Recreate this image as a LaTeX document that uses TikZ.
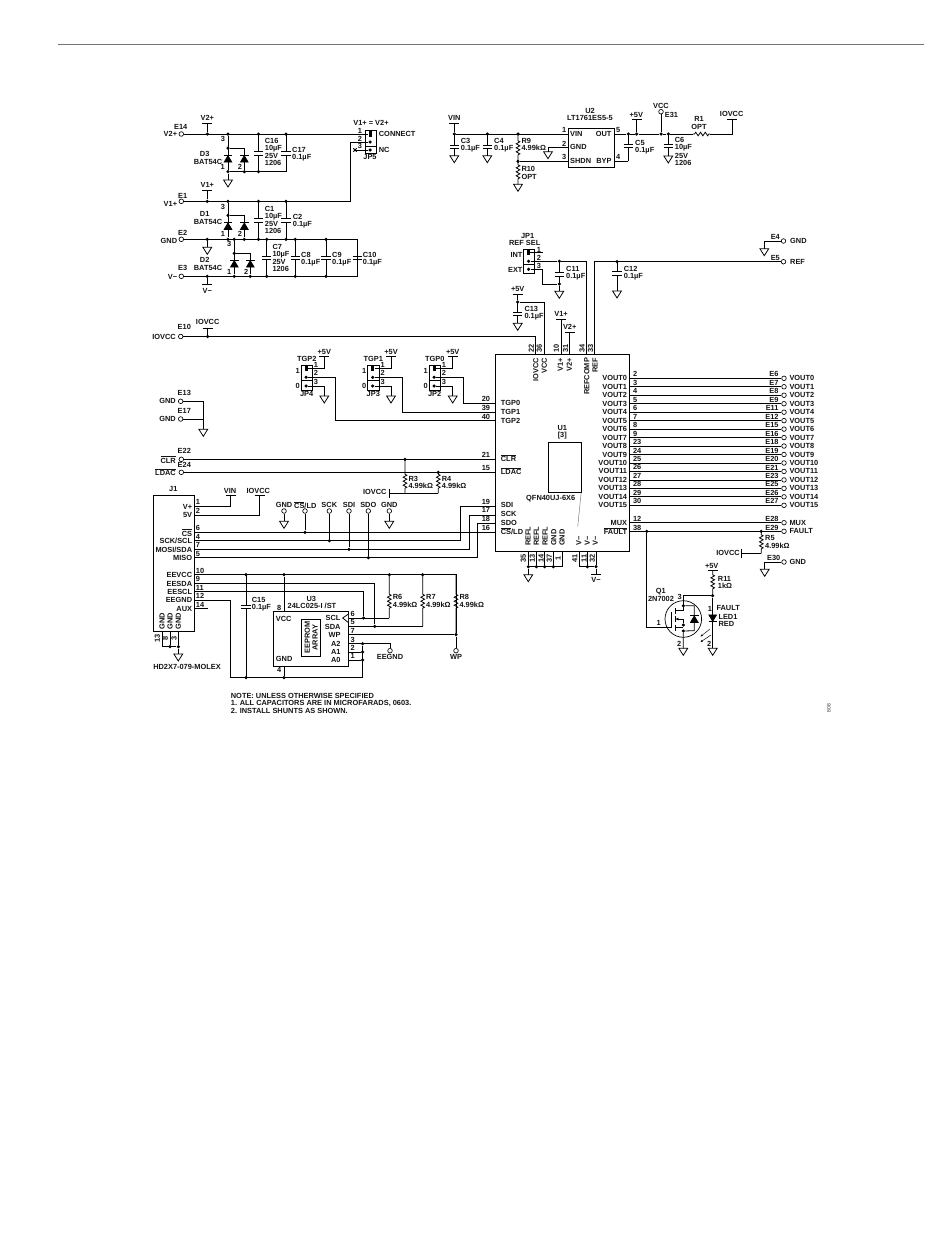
\documentclass[tikz,border=0pt]{standalone}
\usepackage{fontspec}
\setmainfont{Liberation Sans}
\usetikzlibrary{arrows.meta}
\newcounter{lblno}
\tikzset{
  wire/.style={line width=0.78pt,black},
  lbl/.style={inner sep=0pt,font=\fontsize{7.4}{8}\selectfont\bfseries,text=black!92},
  dot/.style={circle,fill=black,inner sep=0pt,minimum size=3.5pt},
  term/.style={circle,draw=black,line width=0.65pt,fill=white,inner sep=0pt,minimum size=4.6pt},
  boxed/.style={draw=black,line width=0.8pt,fill=none},
}
\newcommand{\Lc}[3]{\stepcounter{lblno}\node[lbl] (t\number\value{lblno}) at (#1,#2) {#3};}
\newcommand{\Ll}[3]{\stepcounter{lblno}\node[lbl,anchor=west] (t\number\value{lblno}) at (#1,#2) {#3};}
\newcommand{\Lr}[3]{\stepcounter{lblno}\node[lbl,anchor=east] (t\number\value{lblno}) at (#1,#2) {#3};}
\newcommand{\Ro}[4]{\stepcounter{lblno}\node[lbl,rotate=90,anchor=#4] (t\number\value{lblno}) at (#1,#2) {#3};}
\newcommand{\J}[3]{\node[dot] (#1) at (#2,#3) {};}
\newcommand{\Term}[3]{\node[term] (#1) at (#2,#3) {};}
\newcommand{\Pt}[3]{\coordinate (#1) at (#2,#3);}
\newcommand{\Sup}[3]{\coordinate (#1) at (#2,#3);\draw[wire] (#2-5,#3)--(#2+5,#3);}
\newcommand{\Gnd}[3]{\coordinate (#1) at (#2,#3);\draw[wire,fill=white] (#2-4.4,#3)--(#2+4.4,#3)--(#2,#3+7)--cycle;}
\newcommand{\Cap}[4]{\draw[wire] (#1,#2)--(#1,#4-1.8) (#1-4.7,#4-1.8)--(#1+4.7,#4-1.8) (#1-4.7,#4+1.8)--(#1+4.7,#4+1.8) (#1,#4+1.8)--(#1,#3);}
\newcommand{\ResV}[4]{\draw[wire] (#1,#2)--(#1,#4-7.5)--++(1.8,1)--++(-3.6,2)--++(3.6,2)--++(-3.6,2)--++(3.6,2)--++(-3.6,2)--++(3.6,2)--++(-1.8,1)--(#1,#3);}
\newcommand{\DioUp}[2]{\draw[wire,fill=black] (#1-3.8,#2+3.4)--(#1+3.8,#2+3.4)--(#1,#2-3)--cycle;\draw[wire,line width=1pt] (#1-4.2,#2-3.2)--(#1+4.2,#2-3.2);}
\newcommand{\DioDn}[2]{\draw[wire,fill=black] (#1-3.8,#2-3.4)--(#1+3.8,#2-3.4)--(#1,#2+3)--cycle;\draw[wire,line width=1pt] (#1-4.2,#2+3.2)--(#1+4.2,#2+3.2);}
% name, cx, top, divider, bottom, shunt y, pin2 y, pin3 y
\newcommand{\Jmp}[8]{
  \draw[boxed] (#2-5.6,#3) rectangle (#2+5.6,#5);
  \draw[boxed] (#2-5.6,#4)--(#2+5.6,#4);
  \node[fill=black,inner sep=0pt,minimum width=3.2pt,minimum height=5.4pt] (#1a) at (#2-0.6,#6) {};
  \node[dot] (#1b) at (#2-0.6,#7) {};
  \node[dot] (#1c) at (#2-0.6,#8) {};
}
\newcommand{\OL}[1]{$\overline{\hbox{#1}}$}
\begin{document}
\begin{tikzpicture}[x=1pt,y=-1pt]
\useasboundingbox[fill=white] (0,0) rectangle (950,1248);
\node[draw=none,minimum width=0pt,inner sep=0pt] (rulea) at (58,44) {};
\node[draw=none,inner sep=0pt] (ruleb) at (925,44) {};
\draw[line width=1pt,black!55] (rulea)--(ruleb);

%%% V2+ row
\Term{e14}{181.3}{134}\J{a1}{207.3}{134}\J{a2}{228}{134}\J{a3}{258.5}{134}\J{a4}{286}{134}
\Sup{v2t}{207.3}{123.3}\draw[wire] (v2t)--(a1);
\Jmp{jf}{370.8}{130.7}{146}{153.3}{134}{142}{150}
\draw[wire] (e14)--(jfa);
\J{b1}{228}{148}\J{b2}{228}{171.7}\J{b3}{244.3}{171.7}\J{b4}{258.5}{171.7}
\Pt{b5}{244.3}{148}\Pt{b6}{286}{171.7}
\draw[wire] (a2)--(b2) (b1)--(b5)--(b3) (b2)--(b6);
\DioUp{228}{158.7}\DioUp{244.3}{158.7}
\Cap{258.5}{134}{171.7}{153.3}\Cap{286}{134}{171.7}{153.3}
\Gnd{g1}{228}{180}\draw[wire] (b2)--(g1);
\Lc{180.7}{127}{E14}\Lr{177.3}{134}{V2+}\Lc{207.3}{118}{V2+}
\Lc{223}{139.3}{3}\Lc{222.7}{166.7}{1}\Lc{240}{166.7}{2}
\Lc{204.7}{154.3}{D3}\Lc{208}{162}{BAT54C}
\Ll{264.7}{141.3}{C16}\Ll{264.7}{148.7}{10µF}\Ll{264.7}{156}{25V}\Ll{264.7}{163.3}{1206}
\Ll{292}{150}{C17}\Ll{292}{157.3}{0.1µF}
%%% JP5
\Lc{360}{130.7}{1}\Lc{360}{138.7}{2}\Lc{360}{146}{3}
\Ll{378.7}{134.3}{CONNECT}\Ll{378.7}{150}{NC}\Lc{370}{157.3}{JP5}\Lc{371}{123.3}{V1+ = V2+}
\Pt{x5}{355}{150}\draw[wire] (jfc)--(x5);
\draw[wire] (353.3,148.3)--(356.7,151.7) (353.3,151.7)--(356.7,148.3);
%%% V1+ row
\Term{e1}{181.3}{201.3}\J{c1}{207.3}{201.3}\J{c2}{228}{201.3}\J{c3}{258.5}{201.3}\J{c4}{286}{201.3}
\Pt{c5}{350.3}{201.3}\Sup{v1t}{207.3}{190}\draw[wire] (v1t)--(c1);
\draw[wire] (e1)--(c5)|-(jfb);
\Term{e2}{181.3}{239.3}\J{d0}{207.3}{239.3}\J{d1}{228}{239.3}\J{d2}{234.3}{239.3}\J{d3}{244.3}{239.3}\J{d4}{258.5}{239.3}\J{d5}{266.7}{239.3}\J{d6}{286}{239.3}\J{d7}{295.3}{239.3}\J{d8}{326}{239.3}
\Pt{d9}{357.3}{239.3}
\J{f1}{228}{215.3}\Pt{f2}{244.3}{215.3}
\draw[wire] (c2)--(d1) (f1)--(f2)--(d3);
\DioUp{228}{226}\DioUp{244.3}{226}
\Cap{258.5}{201.3}{239.3}{220.3}\Cap{286}{201.3}{239.3}{220.3}
\Lc{182.7}{196}{E1}\Lr{177.3}{203.7}{V1+}\Lc{207.3}{185.3}{V1+}
\Lc{223}{206.7}{3}\Lc{223}{234.3}{1}\Lc{240}{234.3}{2}
\Lc{204.7}{214}{D1}\Lc{208}{222}{BAT54C}
\Ll{264.7}{209}{C1}\Ll{264.7}{216.3}{10µF}\Ll{264.7}{223.7}{25V}\Ll{264.7}{231.3}{1206}
\Ll{292.7}{217.3}{C2}\Ll{292.7}{224.7}{0.1µF}
%%% GND row, V- row
\Term{e3}{181.3}{276.3}\J{h0}{207.3}{276.3}\J{h1}{234.3}{276.3}\J{h2}{250.3}{276.3}\J{h3}{266.7}{276.3}\J{h4}{295.3}{276.3}\J{h5}{326}{276.3}\Pt{h6}{357.3}{276.3}
\draw[wire] (e2)--(d9)--(h6)--(e3);
\Gnd{g2}{207.3}{247.3}\draw[wire] (d0)--(g2);
\J{k1}{234.3}{253.3}\Pt{k2}{250.3}{253.3}
\draw[wire] (d2)--(h1) (k1)--(k2)--(h2);
\DioUp{234.3}{263.7}\DioUp{250.3}{263.7}
\Cap{266.7}{239.3}{276.3}{257.7}\Cap{295.3}{239.3}{276.3}{257.7}\Cap{326}{239.3}{276.3}{257.7}\Cap{357.3}{239.3}{276.3}{257.7}
\Sup{vmt}{207.3}{284.7}\draw[wire] (h0)--(vmt);
\Lc{182.7}{232.7}{E2}\Lr{177.3}{240.7}{GND}\Lc{182.7}{268}{E3}\Lr{177.3}{276.8}{V−}\Lc{207.3}{290.7}{V−}
\Lc{229.3}{244.3}{3}\Lc{229.3}{271.7}{1}\Lc{246.3}{271.7}{2}
\Lc{204.7}{260.3}{D2}\Lc{208}{268}{BAT54C}
\Ll{272.3}{247}{C7}\Ll{272.3}{254.3}{10µF}\Ll{272.3}{261.7}{25V}\Ll{272.3}{269}{1206}
\Ll{301}{255}{C8}\Ll{301}{262.7}{0.1µF}\Ll{332}{255}{C9}\Ll{332}{262.7}{0.1µF}\Ll{362.7}{255}{C10}\Ll{362.7}{262.7}{0.1µF}

%%% U2 section
\node[boxed,minimum width=45.7pt,minimum height=38.7pt,inner sep=0pt] (u2) at (591.2,147.7) {};
\Sup{vint}{454.3}{123.7}\J{m1}{454.3}{134}\J{m2}{487.3}{134}\J{m3}{518}{134}\J{m4}{518}{161.3}
\draw[wire] (vint)--(m1) (m1)--(u2.west|-m1) (m4)--(u2.west|-m4);
\Gnd{g3}{454.3}{155.7}\Gnd{g4}{487.3}{155.7}
\Cap{454.3}{134}{155.7}{146.7}\Cap{487.3}{134}{155.7}{146.7}
\ResV{518}{134}{161.3}{148.3}\Gnd{g5}{518}{184.3}\ResV{518}{161.3}{184.3}{172.3}
\Gnd{g6}{548}{151.7}\Pt{m5}{548}{147.3}\draw[wire] (u2.west|-m5)--(m5)--(g6);
\Lc{590}{111}{U2}\Lc{590}{118.3}{LT1761ES5-5}
\Lc{564.3}{130}{1}\Lc{564.3}{143.7}{2}\Lc{564.3}{157}{3}\Lc{618.3}{129.7}{5}\Lc{618.3}{157}{4}
\Ll{570}{134}{VIN}\Ll{570}{147.3}{GND}\Ll{570}{161.3}{SHDN}\Lr{611.7}{134}{OUT}\Lr{611.7}{161.3}{BYP}
\Lc{454.3}{118.3}{VIN}
\Ll{460.7}{141.3}{C3}\Ll{460.7}{149}{0.1µF}\Ll{494}{141.3}{C4}\Ll{494}{149}{0.1µF}
\Ll{521.3}{140.7}{R9}\Ll{521.3}{148.3}{4.99kΩ}\Ll{521.3}{169}{R10}\Ll{521.3}{177}{OPT}
\J{n1}{628.3}{134}\J{n2}{636.7}{134}\J{n3}{661}{134}\J{n4}{668.3}{134}\Pt{n5}{732.3}{134}
\Sup{p5a}{636.7}{119.7}\Sup{iov1}{732.3}{119.7}\Term{e31}{661}{111.7}
\Pt{n6}{628.3}{161.3}
\draw[wire] (u2.east|-n1)--(n1)--(n2)--(n3)--(n4)--(693,134);
\draw[wire] (710,134)--(n5)--(iov1) (p5a)--(n2) (e31)--(n3) (n6)--(u2.east|-n6);
\draw[wire] (693,134)--(694.5,134)--++(1.2,-1.8)--++(2.4,3.6)--++(2.4,-3.6)--++(2.4,3.6)--++(2.4,-3.6)--++(2.4,3.6)--++(1.2,-1.8)--(710,134);
\Cap{628.3}{134}{161.3}{145.8}
\Gnd{g7}{668.3}{156}\Cap{668.3}{134}{156}{145.8}
\Lc{636.3}{114.7}{+5V}\Lc{661}{105.7}{VCC}\Ll{664.7}{114.7}{E31}\Lc{699}{119.3}{R1}\Lc{699}{127}{OPT}\Lc{731.7}{114.3}{IOVCC}
\Ll{635}{143}{C5}\Ll{635}{151}{0.1µF}
\Ll{674.7}{140.3}{C6}\Ll{674.7}{147.7}{10µF}\Ll{674.7}{155.7}{25V}\Ll{674.7}{163}{1206}

%%% U1 body
\node[boxed,minimum width=134pt,minimum height=197pt,inner sep=0pt] (u1) at (562.3,452.8) {};
\node[boxed,minimum width=33.4pt,minimum height=50pt,inner sep=0pt] (u1p) at (565,467.3) {};
\Pt{lead}{577.7}{526.7}\draw[line width=0.4pt,black!60] (581.2,492.3)--(lead);
\Lc{562.3}{428.3}{U1}\Lc{562.3}{436}{[3]}\Lc{550.7}{498.7}{QFN40UJ-6X6}

%%% JP1, C11, C12
\Jmp{ja}{529.2}{249.3}{264.7}{273.7}{252.7}{261.3}{269.3}
\J{r1}{559.3}{261.3}\J{r2}{559.3}{284}\Pt{r3}{586.7}{261.3}\Pt{r4}{542.3}{269.3}\Pt{r5}{542.3}{284}\Pt{r6}{543.3}{252.7}
\Gnd{g8}{559.3}{291.3}
\draw[wire] (jab)--(r1)--(r3)--(u1.north-|r3) (jac)--(r4)--(r5)--(r2)--(g8) (jaa)--(r6);
\Cap{559.3}{261.3}{284}{274.3}
\Lc{527.7}{236}{JP1}\Lc{524.7}{243}{REF SEL}\Lr{522.7}{255.3}{INT}\Lr{522.7}{269.7}{EXT}
\Lc{539}{250}{1}\Lc{539}{257.7}{2}\Lc{539}{265.7}{3}
\Ll{566}{269.3}{C11}\Ll{566}{277}{0.1µF}
\Term{e5}{783.5}{261.7}\J{r7}{617}{261.7}\Pt{r8}{594.3}{261.7}\Gnd{g9}{617}{291}
\draw[wire] (e5)--(r8)--(u1.north-|r8);
\Cap{617}{261.7}{291}{273.3}
\Ll{623.7}{269.3}{C12}\Ll{623.7}{277}{0.1µF}
\Term{e4}{783.5}{241}\Gnd{g10}{764.3}{248.7}\draw[wire] (e4)-|(g10);
\Lc{775.3}{237}{E4}\Ll{790}{241}{GND}\Lc{775.3}{257.7}{E5}\Ll{790}{261.7}{REF}
%%% +5V C13, IOVCC
\Sup{p5b}{517.7}{294.3}\J{s1}{517.7}{302}\Pt{s2}{544.3}{302}\Gnd{g11}{517.7}{323.3}
\draw[wire] (p5b)--(s1)--(s2)--(u1.north-|s2);
\Cap{517.7}{302}{323.3}{314}
\Lc{517.7}{289}{+5V}\Ll{524.3}{309}{C13}\Ll{524.3}{317}{0.1µF}
\Term{e10}{180.7}{336.5}\J{s3}{207.7}{336.5}\Pt{s4}{535.3}{336.5}\Sup{iov2}{207.7}{328}
\draw[wire] (e10)--(s4)--(u1.north-|s4) (iov2)--(s3);
\Lc{207.7}{322.3}{IOVCC}\Lc{184.3}{327.3}{E10}\Lr{176}{337}{IOVCC}
\Sup{v1b}{561}{319.3}\Sup{v2b}{569.7}{332.7}
\draw[wire] (v1b)--(u1.north-|v1b) (v2b)--(u1.north-|v2b);
\Lc{561}{314.3}{V1+}\Lc{569.7}{327.3}{V2+}
\Ro{531.3}{348}{22}{center}\Ro{539.3}{348}{36}{center}\Ro{556.3}{348}{10}{center}\Ro{565.7}{348}{31}{center}\Ro{582}{348}{34}{center}\Ro{590.7}{348}{33}{center}
\Ro{535.7}{357.7}{IOVCC}{east}\Ro{544.3}{357.7}{VCC}{east}\Ro{560.3}{357.7}{V1+}{east}\Ro{569.3}{357.7}{V2+}{east}\Ro{586.7}{357.7}{REFCOMP}{east}\Ro{595}{357.7}{REF}{east}

%%% VOUT rows
\foreach \i/\p/\e in {0/2/E6,1/3/E7,2/4/E8,3/5/E9,4/6/E11,5/7/E12,6/8/E15,7/9/E16,8/23/E18,9/24/E19,10/25/E20,11/26/E21,12/27/E23,13/28/E25,14/29/E26,15/30/E27}{
  \pgfmathsetmacro\yy{378.3+8.467*\i}
  \Term{vo\i}{784}{\yy}
  \draw[wire] (u1.east|-vo\i)--(vo\i);
  \Lr{627.3}{\yy}{VOUT\i}
  \Ll{632.8}{\yy-4}{\p}
  \Lr{778.7}{\yy-4}{\e}
  \Ll{789.3}{\yy}{VOUT\i}
}
\Term{e28}{784}{522.7}\Term{e29}{784}{531.3}\J{q0}{646.7}{531.3}\J{q1a}{761.3}{531.3}
\draw[wire] (u1.east|-e28)--(e28) (u1.east|-e29)--(e29);
\Lr{627.3}{522.7}{MUX}\Lr{627.3}{531.3}{\OL{FAULT}}
\Ll{632.8}{519.3}{12}\Ll{632.8}{528}{38}\Lr{778.7}{519}{E28}\Lr{778.7}{527.7}{E29}
\Ll{789.3}{522.7}{MUX}\Ll{789.3}{531.3}{FAULT}
\Pt{q2}{761.3}{553.3}\ResV{761.3}{531.3}{553.3}{542.3}
\Pt{q3}{741.7}{553.3}\draw[wire] (q2)--(q3) (741.7,549)--(741.7,557.6);
\Lr{740}{552.7}{IOVCC}\Ll{765}{538.3}{R5}\Ll{765}{546}{4.99kΩ}
\Term{e30}{784}{562}\Gnd{g12}{764.7}{569.3}\draw[wire] (e30)-|(g12);
\Lc{773.7}{558.3}{E30}\Ll{789.3}{561.7}{GND}
%%% U1 left labels
\Ll{500.7}{403.3}{TGP0}\Ll{500.7}{412}{TGP1}\Ll{500.7}{420.7}{TGP2}
\Ll{500.7}{458.3}{\OL{CLR}}\Ll{500.7}{471.3}{\OL{LDAC}}
\Ll{500.7}{505.3}{SDI}\Ll{500.7}{514}{SCK}\Ll{500.7}{522.7}{SDO}\Ll{500.7}{531.3}{\OL{CS}/LD}
\foreach \nx/\tt in {528/REFL,536.3/REFL,545/REFL,553.7/GND,562/GND}{\Ro{\nx}{546}{\tt}{west}}
\foreach \nx in {578.7,587.3,595.3}{\Ro{\nx}{546}{V−}{west}}
%%% U1 bottom
\J{w1}{536.3}{566.7}\J{w2}{544.7}{566.7}\J{w3}{553.3}{566.7}\J{w4}{528.3}{566.7}\Pt{w5}{562}{566.7}
\Gnd{g13}{528.3}{574.7}
\draw[wire] (w4)--(w5)--(u1.south-|w5) (w4)--(u1.south-|w4) (w1)--(u1.south-|w1) (w2)--(u1.south-|w2) (w3)--(u1.south-|w3) (w4)--(g13);
\J{w6}{587.3}{566.7}\J{w7}{596}{566.7}\Pt{w8}{579.3}{566.7}\Sup{vmb}{596}{574.3}
\draw[wire] (w8)--(w7)--(vmb) (w8)--(u1.south-|w8) (w6)--(u1.south-|w6) (w7)--(u1.south-|w7);
\Lc{596}{580.3}{V−}
\foreach \nx/\tt in {523.3/35,532.3/13,541/14,549.3/37,558/1,574.7/41,584/11,592.3/32}{\Ro{\nx}{558.7}{\tt}{center}}

%%% TGP jumpers
\Jmp{jb}{306.7}{365}{380.7}{390}{368.3}{377.3}{386}
\Jmp{jc}{373.3}{365}{380.7}{390}{368.3}{377.3}{386}
\Jmp{jd}{434.7}{365}{380.7}{390}{368.3}{377.3}{386}
\foreach \jn/\cx/\gx/\tx/\wy/\tg/\jl/\pn in {jb/306.7/324.3/335/420.3/TGP2/JP4/4,jc/373.3/391/402.7/412.3/TGP1/JP3/3,jd/434.7/452.7/463.3/403.7/TGP0/JP2/2}{
  \Sup{\jn p}{\gx}{356.7}\Gnd{\jn g}{\gx}{396}
  \Pt{\jn m}{\tx}{\wy}
  \draw[wire] (\jn a)-|(\jn p);
  \draw[wire] (\jn c)-|(\jn g);
  \draw[wire] (\jn b)-|(\jn m)--(u1.west|-\jn m);
  \Lc{\gx}{351.7}{+5V}\Lc{\cx}{359}{\tg}\Lc{\cx-9}{371.3}{1}\Lc{\cx-9}{385.7}{0}\Lc{\cx}{394.3}{\jl}
  \Lc{\cx+9.3}{365}{1}\Lc{\cx+9.3}{373.3}{2}\Lc{\cx+9.3}{382}{3}
}
\Lr{490.3}{399.3}{20}\Lr{490.3}{408.3}{39}\Lr{490.3}{416.7}{40}
%%% E13 E17
\Term{e13}{180.7}{401.3}\Term{e17}{180.7}{419}\Pt{y1}{203.3}{419}\Gnd{g14}{203.3}{429.3}
\draw[wire] (e13)-|(g14) (e17)--(y1);
\Lc{184.3}{393.3}{E13}\Lr{176}{401.3}{GND}\Lc{184.3}{411}{E17}\Lr{176}{418.7}{GND}
%%% CLR LDAC
\Term{e22}{181.3}{459.3}\Term{e24}{181.3}{472.3}\J{z1}{405}{459.3}\J{z2}{438.3}{472.3}
\draw[wire] (e22)--(u1.west|-e22) (e24)--(u1.west|-e24);
\Lc{184.3}{451}{E22}\Lc{184.3}{465.3}{E24}\Lr{176}{459.7}{\OL{CLR}}\Lr{176}{472.3}{\OL{LDAC}}
\Lr{490.3}{455.3}{21}\Lr{490.3}{467.7}{15}
\ResV{405}{459.3}{493.3}{481.7}\ResV{438.3}{472.3}{493.3}{481.7}
\Pt{z3}{389}{493.3}\Pt{z4}{438.3}{493.3}
\draw[wire] (z3)--(z4) (389,489)--(389,497.5);
\Lr{386.7}{492.3}{IOVCC}
\Ll{408.3}{478.7}{R3}\Ll{408.3}{486.3}{4.99kΩ}\Ll{441.7}{478.7}{R4}\Ll{441.7}{486.3}{4.99kΩ}

%%% J1
\node[boxed,minimum width=41.4pt,minimum height=136.4pt,inner sep=0pt] (j1) at (174,563.5) {};
\Lc{173.3}{489.3}{J1}
\Lr{192.3}{506.7}{V+}\Lr{192.3}{515.3}{5V}\Lr{192.3}{532.7}{\OL{CS}}\Lr{192.3}{541.3}{SCK/SCL}\Lr{192.3}{550}{MOSI/SDA}\Lr{192.3}{558.3}{MISO}
\Lr{192.3}{575.3}{EEVCC}\Lr{192.3}{583.7}{EESDA}\Lr{192.3}{592}{EESCL}\Lr{192.3}{600.3}{EEGND}\Lr{192.3}{608.7}{AUX}
\foreach \yy/\p in {506/1,515/2,532.3/6,540.7/4,549.3/7,557.7/5,574.7/10,583/9,591.7/11,600.3/12,608.7/14}{\Ll{195.7}{\yy-4}{\p}}
\Sup{vinb}{230.7}{495.7}\Sup{iov3}{259.7}{495.7}
\Pt{aa1}{194.7}{506}\Pt{aa2}{194.7}{515}
\draw[wire] (aa1)-|(vinb) (aa2)-|(iov3);
\Lc{230}{491.3}{VIN}\Lc{258.3}{491.3}{IOVCC}
\Term{tg1}{284}{511}\Term{tcs}{305}{511}\Term{tsck}{329.3}{511}\Term{tsdi}{349}{511}\Term{tsdo}{368.3}{511}\Term{tg2}{389.3}{511}
\Gnd{g15}{284}{521.3}\Gnd{g16}{389.3}{521.3}
\J{bb1}{305}{532.3}\J{bb2}{329.3}{540.7}\J{bb3}{349}{549.3}\J{bb4}{368.3}{557.7}
\Pt{cc1}{460.3}{540.7}\Pt{cc2}{460.3}{506.3}\Pt{cc3}{469.3}{549.3}\Pt{cc4}{469.3}{515}\Pt{cc5}{477.7}{557.7}\Pt{cc6}{477.7}{523.7}
\draw[wire] (tg1)--(g15) (tg2)--(g16) (tcs)--(bb1) (tsck)--(bb2) (tsdi)--(bb3) (tsdo)--(bb4);
\draw[wire] (j1.east|-bb1)--(u1.west|-bb1);
\draw[wire] (j1.east|-bb2)--(cc1)--(cc2)--(u1.west|-cc2);
\draw[wire] (j1.east|-bb3)--(cc3)--(cc4)--(u1.west|-cc4);
\draw[wire] (j1.east|-bb4)--(cc5)--(cc6)--(u1.west|-cc6);
\Lc{284}{505}{GND}\Lc{305.3}{505}{\OL{CS}/LD}\Lc{329.3}{505}{SCK}\Lc{349}{505}{SDI}\Lc{368.3}{505}{SDO}\Lc{389.3}{505}{GND}
\Lr{490.3}{501.7}{19}\Lr{490.3}{510.3}{17}\Lr{490.3}{519.3}{18}\Lr{490.3}{527.7}{16}
%%% J1 bottom
\Ro{162}{629.3}{GND}{west}\Ro{170}{629.3}{GND}{west}\Ro{178.3}{629.3}{GND}{west}
\J{dd1}{170}{646.7}\J{dd2}{178.3}{646.7}\Pt{dd3}{162}{646.7}\Gnd{g17}{178.3}{654}
\draw[wire] (dd3)--(dd2)--(g17) (dd3)--(j1.south-|dd3) (dd1)--(j1.south-|dd1) (dd2)--(j1.south-|dd2);
\Ro{157.3}{638}{13}{center}\Ro{165.3}{638}{8}{center}\Ro{174}{638}{3}{center}
\Lc{187}{667}{HD2X7-079-MOLEX}
%%% EE bus + U3
\node[boxed,minimum width=74.7pt,minimum height=55pt,inner sep=0pt] (u3) at (310.7,639.2) {};
\node[boxed,minimum width=18.3pt,minimum height=36.7pt,inner sep=0pt] (eep) at (310.9,637.7) {};
\Ro{307.3}{637.7}{EEPROM}{center}\Ro{315}{637.7}{ARRAY}{center}
\J{ee1}{246}{574.7}\J{ee2}{284}{574.7}\J{ee3}{389.3}{574.7}\J{ee4}{422.7}{574.7}\Pt{ee5}{456}{574.7}
\J{ee6}{456}{634.7}\Term{twp}{456}{650.7}
\J{ee7}{363.7}{618}\J{ee8}{374.7}{626.3}\Pt{ee9}{389.3}{618}\Pt{ee10}{422.7}{626.3}
\J{ff1}{246}{677.7}\J{ff2}{284}{677.7}\J{ff3}{362.7}{643.7}\J{ff4}{362.7}{652}\J{ff5}{362.7}{660}\Pt{ff6}{362.7}{677.7}\Pt{ff7}{230.3}{677.7}\Pt{ff8}{230.3}{600.3}
\Pt{gg1}{363.7}{591.7}\Pt{gg2}{374.7}{583}\Pt{gg3}{390}{643.7}\Term{teeg}{390}{650.7}
\draw[wire] (j1.east|-ee1)--(ee5)--(ee6)--(twp);
\draw[wire] (ee2)--(u3.north-|ee2) (ff2)--(u3.south-|ff2);
\draw[wire] (j1.east|-gg2)--(gg2)--(ee8) (j1.east|-gg1)--(gg1)--(ee7);
\draw[wire] (j1.east|-ff8)--(ff8)--(ff7)--(ff6)--(ff3);
\draw[wire] (u3.east|-ee7)--(ee9) (u3.east|-ee8)--(ee10) (u3.east|-ee6)--(ee6);
\draw[wire] (u3.east|-ff3)--(gg3)--(teeg) (u3.east|-ff4)--(ff4) (u3.east|-ff5)--(ff5);
\draw[wire] (194.7,608.7)--(208.3,608.7);
\ResV{389.3}{574.7}{618}{601.7}
\ResV{422.7}{574.7}{626.3}{601.7}
\Cap{246}{574.7}{677.7}{606.7}
\draw[wire,fill=white] (348,614.3)--(342.7,618)--(348,622.3);
\Ll{251.7}{600}{C15}\Ll{251.7}{607.7}{0.1µF}
\Lc{311.3}{599}{U3}\Lc{312}{606.3}{24LC025-I /ST}
\Lc{279.3}{608}{8}\Lc{279.3}{670}{4}
\Ll{275.7}{618.7}{VCC}\Ll{275.7}{659}{GND}
\Lr{340.7}{618}{SCL}\Lr{340.7}{626.7}{SDA}\Lr{340.7}{635}{WP}\Lr{340.7}{643.7}{A2}\Lr{340.7}{652.3}{A1}\Lr{340.7}{660.3}{A0}
\Lc{352.7}{614.3}{6}\Lc{352.7}{622.3}{5}\Lc{352.7}{631}{7}\Lc{352.7}{640}{3}\Lc{352.7}{648.3}{2}\Lc{352.7}{656}{1}
\Ll{392.7}{597.3}{R6}\Ll{392.7}{605}{4.99kΩ}\Ll{426}{597.3}{R7}\Ll{426}{605}{4.99kΩ}\Ll{459.3}{597.3}{R8}\Ll{459.3}{605}{4.99kΩ}
\Lc{390}{657.3}{EEGND}\Lc{456}{657.3}{WP}
\ResV{456}{574.7}{634.7}{601.7}
\Ll{230.7}{696}{NOTE: UNLESS OTHERWISE SPECIFIED}
\Ll{230.7}{703.7}{1. ALL CAPACITORS ARE IN MICROFARADS, 0603.}
\Ll{230.7}{710.7}{2. INSTALL SHUNTS AS SHOWN.}

%%% Q1
\node[draw=black,line width=0.7pt,circle,minimum size=36.6pt,inner sep=0pt] (q1) at (683.3,619) {};
\Pt{qg}{671.7}{627.3}\Pt{qd}{683.3}{595.7}\J{qs}{712.7}{595.7}\J{qa}{683.3}{605.7}\J{qb}{683.3}{625}\J{qc}{683.3}{631}
\Gnd{g18}{683.3}{648.3}\Gnd{g19}{712.7}{648.3}\Sup{p5c}{712.7}{570.7}
\draw[wire] (q0)|-(qg)--(671.7,611.7);
\draw[wire,line width=1pt] (675,608.3)--(675,614) (675,616)--(675,621.7) (675,625)--(675,630.7);
\draw[wire] (qs)--(qd)--(683.3,610.5)--(675,610.5);
\draw[wire] (675,627.5)--(683.3,627.5) (qb)--(683.3,619);
\draw[wire,-{Latex[length=3pt,width=3pt]}] (683.3,619)--(675.4,619);
\draw[wire] (qc)--(g18) (qa)-|(694.3,630.7)--(qc);
\DioUp{694.3}{619}
\ResV{712.7}{570.7}{595.7}{582.3}
\draw[wire] (qs)--(g19);
\DioDn{712.7}{618.3}
\draw[wire,line width=0.45pt,-{Latex[length=2.2pt,width=2.2pt]}] (710,629)--(700.5,636.5);
\draw[wire,line width=0.45pt,-{Latex[length=2.2pt,width=2.2pt]}] (711,635)--(700.5,642);
\Lc{711.7}{565.7}{+5V}\Ll{717.7}{578.7}{R11}\Ll{717.7}{586.3}{1kΩ}
\Lc{660.7}{591.7}{Q1}\Lc{661}{598.7}{2N7002}\Lc{679.7}{596.7}{3}\Lc{658.7}{622.7}{1}\Lc{679.3}{643.7}{2}
\Lc{710}{609}{1}\Lc{709.3}{644}{2}
\Ll{716.3}{608.3}{FAULT}\Ll{718.3}{616.7}{LED1}\Ll{718.3}{624}{RED}
\stepcounter{lblno}\node[inner sep=0pt,rotate=90,font=\fontsize{5}{5}\selectfont,text=black!80] (t\number\value{lblno}) at (829,708) {808};
\end{tikzpicture}
\end{document}
